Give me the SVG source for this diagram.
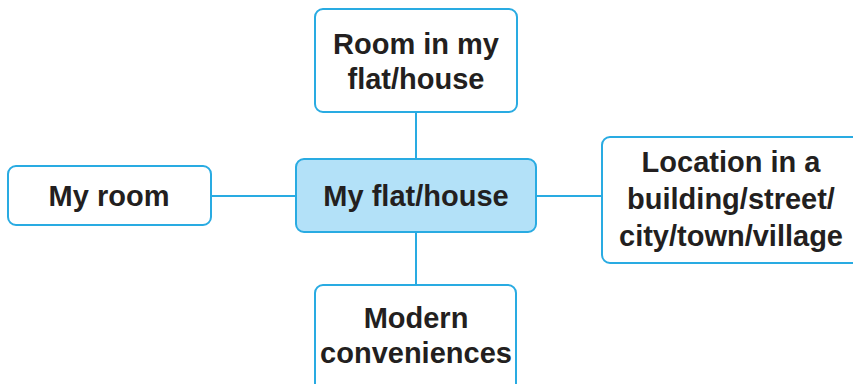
<svg xmlns="http://www.w3.org/2000/svg" width="853" height="384" viewBox="0 0 853 384">
<style>
.box{fill:#ffffff;stroke:#29abe2;stroke-width:2}
.main{fill:#b3e1f8;stroke:#29abe2;stroke-width:2}
.lbl{font-family:"Liberation Sans",Arial,sans-serif;font-weight:bold;font-size:29px;fill:#231f20;text-anchor:middle}
.conn{stroke:#29abe2;stroke-width:2;fill:none}
</style>
<rect width="853" height="384" fill="#ffffff"/>
<g id="connectors">
<line class="conn" x1="416" y1="112" x2="416" y2="159"/>
<line class="conn" x1="416" y1="232" x2="416" y2="285"/>
<line class="conn" x1="211" y1="196" x2="296" y2="196"/>
<line class="conn" x1="536" y1="196" x2="602" y2="196"/>
</g>
<g id="center">
<rect class="main" x="296" y="159" width="240" height="73" rx="8"/>
<text class="lbl" x="416" y="206">My flat/house</text>
</g>
<g id="top">
<rect class="box" x="315" y="9" width="202" height="103" rx="8"/>
<text class="lbl" x="416" y="54">Room in my</text>
<text class="lbl" x="416" y="89">flat/house</text>
</g>
<g id="left">
<rect class="box" x="8" y="166" width="203" height="59" rx="8"/>
<text class="lbl" x="109" y="206">My room</text>
</g>
<g id="right">
<rect class="box" x="602" y="137" width="262" height="126" rx="8"/>
<text class="lbl" x="731" y="172">Location in a</text>
<text class="lbl" x="731" y="209">building/street/</text>
<text class="lbl" x="731" y="246">city/town/village</text>
</g>
<g id="bottom">
<rect class="box" x="315" y="285" width="201" height="110" rx="8"/>
<text class="lbl" x="416" y="328">Modern</text>
<text class="lbl" x="416" y="363">conveniences</text>
</g>
</svg>
